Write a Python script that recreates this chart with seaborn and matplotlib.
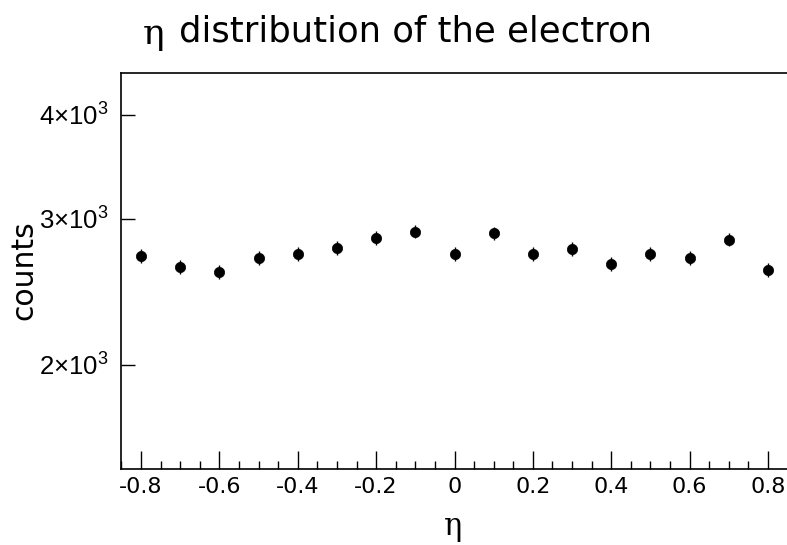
import numpy as np
import pandas as pd
import matplotlib
matplotlib.use("Agg")
import matplotlib.pyplot as plt
import seaborn as sns
from matplotlib.ticker import FixedLocator, MultipleLocator, NullLocator

# data
eta = [-0.8, -0.7, -0.6, -0.5, -0.4, -0.3, -0.2, -0.1, 0.0,
       0.1, 0.2, 0.3, 0.4, 0.5, 0.6, 0.7, 0.8]
counts = [2711, 2626, 2594, 2694, 2722, 2770, 2848, 2898, 2724,
          2885, 2724, 2760, 2652, 2724, 2692, 2835, 2603]
ytick_vals = [2000, 3000, 4000]
ytick_labels = [r"$2{\times}10^{3}$", r"$3{\times}10^{3}$", r"$4{\times}10^{3}$"]
xtick_vals = [-0.8, -0.6, -0.4, -0.2, 0, 0.2, 0.4, 0.6, 0.8]
xtick_labels = ["-0.8", "-0.6", "-0.4", "-0.2", "0", "0.2", "0.4", "0.6", "0.8"]

df = pd.DataFrame({"eta": eta, "counts": counts})
df["err"] = np.sqrt(df["counts"])

sns.set_theme(style="ticks")
plt.rcParams["font.family"] = ["DejaVu Sans"]
plt.rcParams["text.color"] = "black"
plt.rcParams["mathtext.fontset"] = "custom"
plt.rcParams["mathtext.rm"] = "Liberation Sans"
plt.rcParams["mathtext.it"] = "Liberation Sans:italic"
plt.rcParams["mathtext.bf"] = "Liberation Sans:bold"

fig = plt.figure(figsize=(7.87, 5.45), dpi=100)
ax = fig.add_axes([121.4 / 787, (545 - 469) / 545, (787.6 - 121.4) / 787, (469 - 73) / 545])

ax.errorbar(df["eta"], df["counts"], yerr=df["err"], fmt="none",
            ecolor="black", elinewidth=1.0, capsize=0, zorder=2)
sns.scatterplot(data=df, x="eta", y="counts", ax=ax, color="black",
                s=55, edgecolor="black", linewidth=0.5, zorder=3, legend=False)

ax.set_yscale("log")
ax.set_xlim(-0.85, 0.85)
ax.set_ylim(1500, 4500)

ax.yaxis.set_major_locator(FixedLocator(ytick_vals))
ax.set_yticklabels(ytick_labels)
ax.yaxis.set_minor_locator(NullLocator())
ax.set_xticks(xtick_vals)
ax.set_xticklabels(xtick_labels)
ax.xaxis.set_minor_locator(MultipleLocator(0.05))

ax.tick_params(axis="x", which="major", direction="in", length=13, width=1,
               labelsize=16, pad=6, colors="black")
ax.tick_params(axis="x", which="minor", direction="in", length=6, width=1,
               colors="black")
ax.tick_params(axis="y", which="major", direction="in", length=10, width=1,
               labelsize=18.5, pad=9, colors="black")
for s in ax.spines.values():
    s.set_linewidth(1.2)
    s.set_color("black")
ax.spines["right"].set_visible(False)
ax.spines["top"].set_visible(True)

ax.set_xlabel("")
ax.set_ylabel("")
fig.text(453 / 787, 1 - 526 / 545, "η", fontsize=22, ha="center", va="center",
         family=["DejaVu Serif"], color="black")
fig.text(24 / 787, 1 - 270 / 545, "counts", fontsize=21.5, rotation=90,
         ha="center", va="center", color="black")
fig.text(143 / 787, 1 - 34 / 545, "η", fontsize=26, ha="left", va="center",
         family=["DejaVu Serif"], color="black")
fig.text(179 / 787, 1 - 32 / 545, "distribution of the electron", fontsize=25.5,
         ha="left", va="center", color="black")

fig.savefig("out.png", dpi=100)
